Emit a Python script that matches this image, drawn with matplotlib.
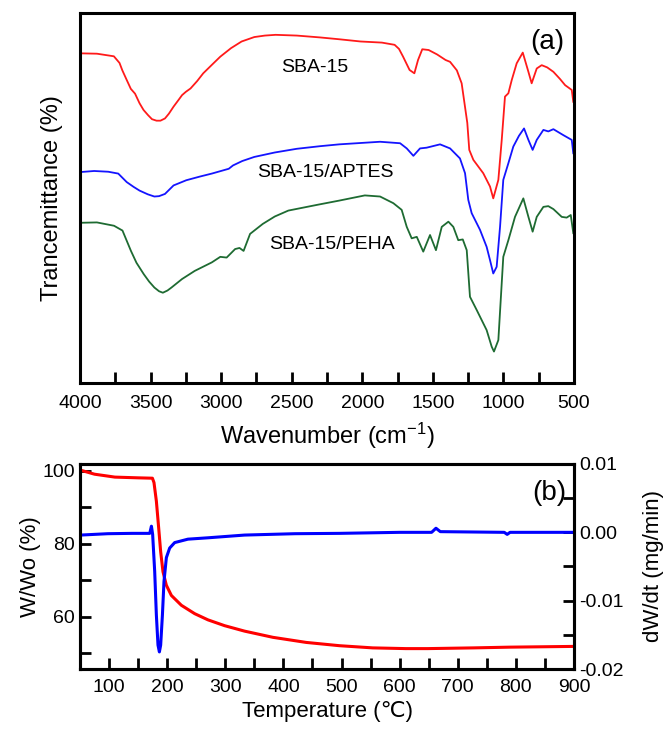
import matplotlib
matplotlib.use("Agg")
import matplotlib.pyplot as plt
from matplotlib.ticker import MultipleLocator

plt.rcParams['font.family'] = ['Liberation Sans', 'DejaVu Sans']
plt.rcParams['mathtext.fontset'] = 'custom'
plt.rcParams['mathtext.rm'] = 'Liberation Sans'
plt.rcParams['mathtext.default'] = 'regular'

# ---- FTIR data (panel a), arbitrary transmittance units ----
sba_wn = [4000, 3880, 3760, 3720, 3700, 3669, 3640, 3610, 3578, 3550, 3518, 3490, 3458, 3430,
          3398, 3370, 3337, 3300, 3277, 3250, 3217, 3170, 3127, 3060, 3006, 2930, 2855, 2765,
          2690, 2614, 2464, 2300, 2163, 2012, 1861, 1771, 1740, 1711, 1665, 1631, 1605, 1575,
          1530, 1470, 1410, 1378, 1330, 1296, 1256, 1242, 1213, 1143, 1095, 1072, 1036, 1012,
          989, 965, 941, 906, 863, 823, 800, 764, 729, 690, 646, 600, 563, 516, 505]
sba_t = [89.1, 89.0, 88.3, 86.5, 84.5, 81.9, 79.5, 78.2, 75.6, 73.8, 72.4, 71.3, 70.9, 70.9,
         71.5, 72.8, 74.7, 76.6, 77.8, 78.7, 79.6, 81.6, 83.7, 86.2, 88.2, 90.5, 92.3, 93.5,
         93.9, 94.1, 93.9, 93.4, 92.9, 92.3, 92.0, 91.4, 90.3, 88.2, 84.6, 83.7, 87.3, 90.2,
         90.0, 88.8, 87.3, 86.8, 84.5, 81.0, 70.3, 63.0, 60.3, 56.7, 53.1, 49.9, 54.9, 65.7,
         77.4, 78.3, 81.9, 86.4, 89.3, 84.1, 81.0, 85.0, 85.9, 85.3, 84.1, 82.2, 80.5, 79.2, 76.0]

aptes_wn = [4000, 3900, 3800, 3729, 3669, 3620, 3578, 3520, 3473, 3440, 3398, 3337, 3247, 3150,
            3066, 2946, 2916, 2850, 2765, 2620, 2464, 2300, 2163, 1874, 1732, 1685, 1638, 1591,
            1544, 1449, 1378, 1308, 1272, 1249, 1225, 1166, 1119, 1095, 1072, 1048, 1024, 1001,
            965, 930, 890, 854, 823, 793, 764, 717, 682, 646, 576, 516, 505]
aptes_t = [57.0, 57.3, 57.1, 56.6, 54.3, 53.0, 52.0, 51.0, 50.4, 50.5, 51.1, 53.4, 54.8, 55.8,
           56.6, 57.9, 58.8, 60.0, 61.1, 62.3, 63.3, 64.0, 64.5, 65.2, 64.8, 63.4, 61.4, 63.4,
           63.6, 64.5, 63.4, 60.7, 56.7, 49.5, 45.9, 41.4, 36.8, 33.2, 29.6, 31.4, 42.2, 54.9,
           59.4, 63.9, 66.8, 68.8, 65.7, 63.0, 65.7, 68.4, 68.0, 68.6, 67.0, 65.7, 62.1]

peha_wn = [4000, 3880, 3759, 3699, 3639, 3600, 3548, 3510, 3473, 3440, 3413, 3380, 3352, 3277,
           3187, 3066, 3006, 2961, 2901, 2870, 2841, 2795, 2705, 2620, 2524, 2313, 2163, 1982,
           1874, 1780, 1721, 1685, 1650, 1614, 1568, 1520, 1478, 1437, 1390, 1355, 1320, 1288,
           1260, 1237, 1189, 1119, 1083, 1067, 1036, 1001, 965, 918, 859, 823, 793, 764, 717,
           682, 646, 587, 552, 523, 505]
peha_t = [43.3, 43.4, 42.5, 41.2, 35.7, 32.5, 29.4, 27.4, 25.8, 24.8, 24.4, 25.0, 25.8, 28.1,
          30.3, 32.6, 34.1, 33.9, 36.2, 36.5, 35.7, 40.3, 43.0, 45.0, 46.6, 48.2, 49.3, 50.7,
          50.4, 48.6, 46.8, 42.2, 39.1, 39.5, 35.5, 40.0, 35.9, 42.2, 43.6, 42.2, 38.6, 38.8,
          35.9, 23.3, 19.7, 14.3, 9.8, 8.5, 11.6, 34.1, 38.6, 44.9, 49.9, 44.9, 40.9, 44.9,
          47.6, 47.8, 47.0, 44.9, 44.7, 45.4, 40.5]

labels_a = ["SBA-15", "SBA-15/APTES", "SBA-15/PEHA"]
xticks_a = [4000, 3500, 3000, 2500, 2000, 1500, 1000, 500]

# ---- TGA data (panel b) ----
tg_T = [51, 75, 110, 150, 174.6, 177.3, 181.4, 185.4, 188.8, 192.8, 198.6, 207.2, 224.4,
        247.3, 270.1, 298.8, 333.2, 381.9, 439.2, 496.4, 553.6, 610.9, 648, 727.4, 789.5, 897.5]
tg_w = [100.2, 99.1, 98.3, 98.1, 98.0, 96.8, 91.7, 84.3, 77.8, 72.3, 68.6, 65.8, 63.1,
        60.8, 59.1, 57.5, 56.0, 54.3, 52.9, 52.0, 51.4, 51.2, 51.2, 51.4, 51.6, 51.8]

dtg_T = [51, 98, 140, 170, 172.9, 175, 178.5, 181.4, 184.2, 186.6, 188.8, 191.8, 194.5,
         198.6, 204.3, 212.9, 235.7, 270.1, 333.2, 420, 496.4, 600, 655, 662.5, 670, 780,
         785, 790, 897.5]
dtg_d = [-0.0004, -0.0002, -0.00015, -0.00015, 0.0009, -0.0003, -0.0057, -0.0121, -0.0165,
         -0.0175, -0.0165, -0.0121, -0.0072, -0.0037, -0.0023, -0.0015, -0.0010, -0.0008,
         -0.0004, -0.0002, -0.00015, 0.0, 0.0, 0.0006, 0.0001, 0.0, -0.0003, 0.0, 0.0]

fig = plt.figure(figsize=(6.67, 7.36), dpi=100)
W, H = 667, 736

def pos(l, t, r, b):
    return [l / W, (H - b) / H, (r - l) / W, (b - t) / H]

# ---------------- panel (a) ----------------
ax1 = fig.add_axes(pos(80, 13, 574, 383))
ax1.plot(sba_wn, sba_t, color='#ff1a1a', lw=1.3)
ax1.plot(aptes_wn, aptes_t, color='#1414ff', lw=1.3)
ax1.plot(peha_wn, peha_t, color='#1e6b32', lw=1.3)
ax1.set_xlim(4000, 500)
ax1.set_ylim(0, 100)
ax1.set_xticks(xticks_a)
ax1.xaxis.set_minor_locator(MultipleLocator(250))
ax1.set_yticks([])
ax1.tick_params(axis='x', which='both', direction='in', length=8, width=2, labelsize=14, pad=9, top=False)
for s in ax1.spines.values():
    s.set_linewidth(2.2)
ax1.set_xlabel("Wavenumber (cm$^{-1}$)", fontsize=17, labelpad=6)
ax1.set_ylabel("Trancemittance (%)", fontsize=17, labelpad=12)
ax1.text(2335, 85.4, labels_a[0], fontsize=14, ha='center', va='center')
ax1.text(2264, 57.0, labels_a[1], fontsize=14, ha='center', va='center')
ax1.text(2215, 37.3, labels_a[2], fontsize=14, ha='center', va='center')
ax1.text(691, 92.2, "(a)", fontsize=20, ha='center', va='center')

# ---------------- panel (b) ----------------
ax2 = fig.add_axes(pos(80, 464, 574, 669))
ax2.plot(tg_T, tg_w, color='#ff0000', lw=2.2, zorder=3)
ax2.set_xlim(50, 900)
ax2.set_ylim(45.6, 101.9)
ax2.set_xticks([100, 200, 300, 400, 500, 600, 700, 800, 900])
ax2.xaxis.set_minor_locator(MultipleLocator(50))
ax2.set_yticks([60, 80, 100])
ax2.yaxis.set_minor_locator(MultipleLocator(10))
ax2.tick_params(which='both', direction='in', length=8, width=2, labelsize=14, top=False, right=False)
ax2.tick_params(axis='x', pad=7)
for s in ax2.spines.values():
    s.set_linewidth(2.2)
ax2.set_xlabel("Temperature (℃)", fontsize=16, labelpad=4)
ax2.set_ylabel("W/Wo (%)", fontsize=16, labelpad=1)

ax3 = ax2.twinx()
ax3.plot(dtg_T, dtg_d, color='#0000ff', lw=2.2)
ax3.set_ylim(-0.02, 0.01)
ax3.set_yticks([-0.02, -0.01, 0.00, 0.01])
ax3.set_yticklabels(["-0.02", "-0.01", "0.00", "0.01"])
ax3.yaxis.set_minor_locator(MultipleLocator(0.005))
ax3.tick_params(which='both', direction='in', length=8, width=2, labelsize=14)
for s in ax3.spines.values():
    s.set_linewidth(2.2)
ax3.set_ylabel("dW/dt (mg/min)", fontsize=16, labelpad=14)
ax3.text(0.951, 0.859, "(b)", transform=ax3.transAxes, fontsize=20, ha='center', va='center')

fig.savefig("out.png", dpi=100)
